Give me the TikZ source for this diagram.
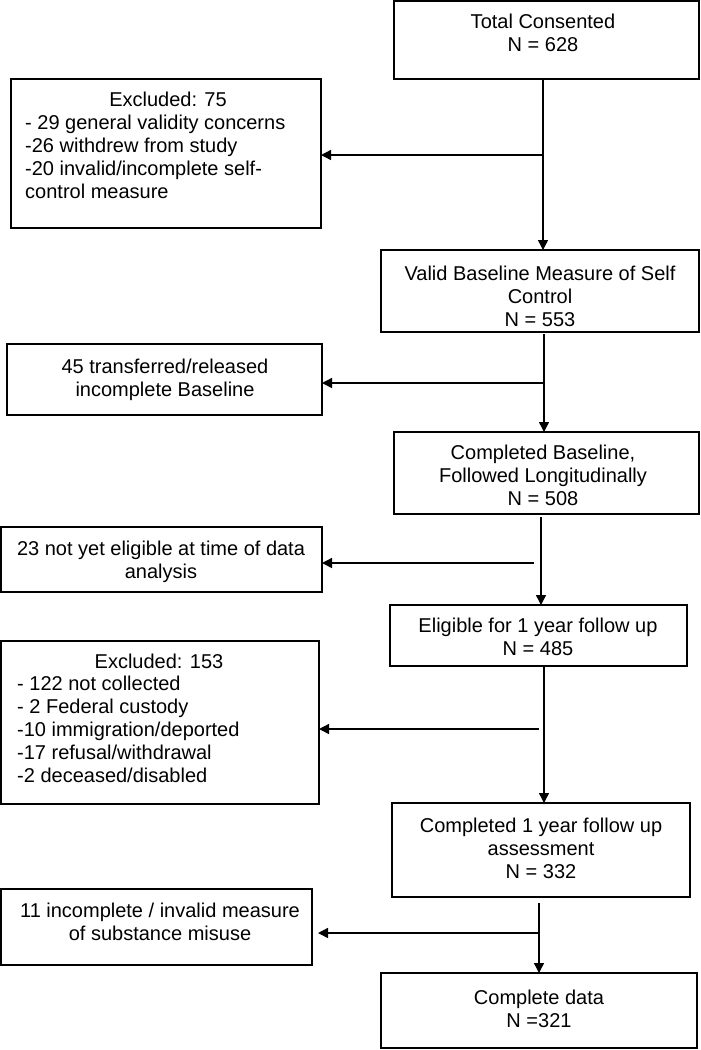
\documentclass[tikz,border=0pt]{standalone}
\usepackage{fontspec}
\setmainfont{Liberation Sans}
\usetikzlibrary{arrows.meta,calc}
\begin{document}
\begin{tikzpicture}[x=1pt,y=-1pt,
  box/.style={draw=black,line width=1.2pt,inner sep=0pt,outer sep=0pt},
  txt/.style={inner sep=0pt,align=center,font=\fontsize{20}{23}\selectfont},
  ltxt/.style={inner sep=0pt,align=left,font=\fontsize{20}{23}\selectfont},
  conn/.style={line width=1.4pt},
  arr/.style={line width=1.4pt,-{Triangle[length=10pt,width=10pt]}}]
\useasboundingbox (0,0) rectangle (701,1050);
% boxes
\node[box,minimum width=305,minimum height=78] (b1) at (546.5,40) {};
\node[box,minimum width=310,minimum height=149] (e1) at (166,153.5) {};
\node[box,minimum width=318,minimum height=82] (b2) at (540,291) {};
\node[box,minimum width=315,minimum height=71] (e2) at (164.5,379.5) {};
\node[box,minimum width=305,minimum height=82] (b3) at (546.5,473) {};
\node[box,minimum width=321,minimum height=65] (e3) at (161.5,559.5) {};
\node[box,minimum width=297,minimum height=61] (b4) at (538.5,635.5) {};
\node[box,minimum width=318,minimum height=163] (e4) at (160,722.5) {};
\node[box,minimum width=298,minimum height=94] (b5) at (541,850) {};
\node[box,minimum width=311,minimum height=76] (e5) at (156.5,927) {};
\node[box,minimum width=316,minimum height=75] (b6) at (539,1010.5) {};
% texts
\node[txt,anchor=north] (t1) at (543,14) {Total Consented\\N = 628};
\node[txt,anchor=north] (t75h) at (168,92) {Excluded: 75};
\node[ltxt,anchor=north west] (t75) at (25,115) {- 29 general validity concerns\\-26 withdrew from study\\-20 invalid/incomplete self-\\control measure};
\node[txt,anchor=north] (t2) at (540,266) {Valid Baseline Measure of Self\\Control\\N = 553};
\node[txt,anchor=north] (t45) at (165,359) {45 transferred/released\\incomplete Baseline};
\node[txt,anchor=north] (t3) at (543,445) {Completed Baseline,\\Followed Longitudinally\\N = 508};
\node[txt,anchor=north] (t23) at (161,541) {23 not yet eligible at time of data\\analysis};
\node[txt,anchor=north] (t4) at (538,618) {Eligible for 1 year follow up\\N = 485};
\node[txt,anchor=north] (t153h) at (159,654) {Excluded: 153};
\node[ltxt,anchor=north west] (t153) at (17,676) {- 122 not collected\\- 2 Federal custody\\-10 immigration/deported\\-17 refusal/withdrawal\\-2 deceased/disabled};
\node[txt,anchor=north] (t5) at (541,818) {Completed 1 year follow up\\assessment\\N = 332};
\node[txt,anchor=north] (t11) at (160,903) {11 incomplete / invalid measure\\of substance misuse};
\node[txt,anchor=north] (t6) at (539,990) {Complete data\\N =321};
% junctions
\coordinate (j1) at (543,155);
\coordinate (j2) at (544,383);
\coordinate (v3) at (541,563);
\coordinate (j3) at (534,563);
\coordinate (j4) at (539,729);
\coordinate (v4) at (544,729);
\coordinate (j5) at (539,933);
% connectors
\draw[arr] (b1.south -| j1) -- (b2.north -| j1);
\draw[arr] (j1) -- (e1.east |- j1);
\draw[arr] ([yshift=-2pt]b2.south -| j2) -- (b3.north -| j2);
\draw[arr] (j2) -- (e2.east |- j2);
\draw[arr] ([yshift=-3pt]b3.south -| v3) -- (b4.north -| v3);
\draw[arr] (j3) -- (e3.east |- j3);
\draw[arr] (b4.south -| v4) -- (b5.north -| v4);
\draw[arr] (j4) -- (e4.east |- j4);
\draw[arr] ([yshift=-6pt]b5.south -| j5) -- (b6.north -| j5);
\draw[arr] (j5) -- ([xshift=6pt]e5.east |- j5);
\end{tikzpicture}
\end{document}
